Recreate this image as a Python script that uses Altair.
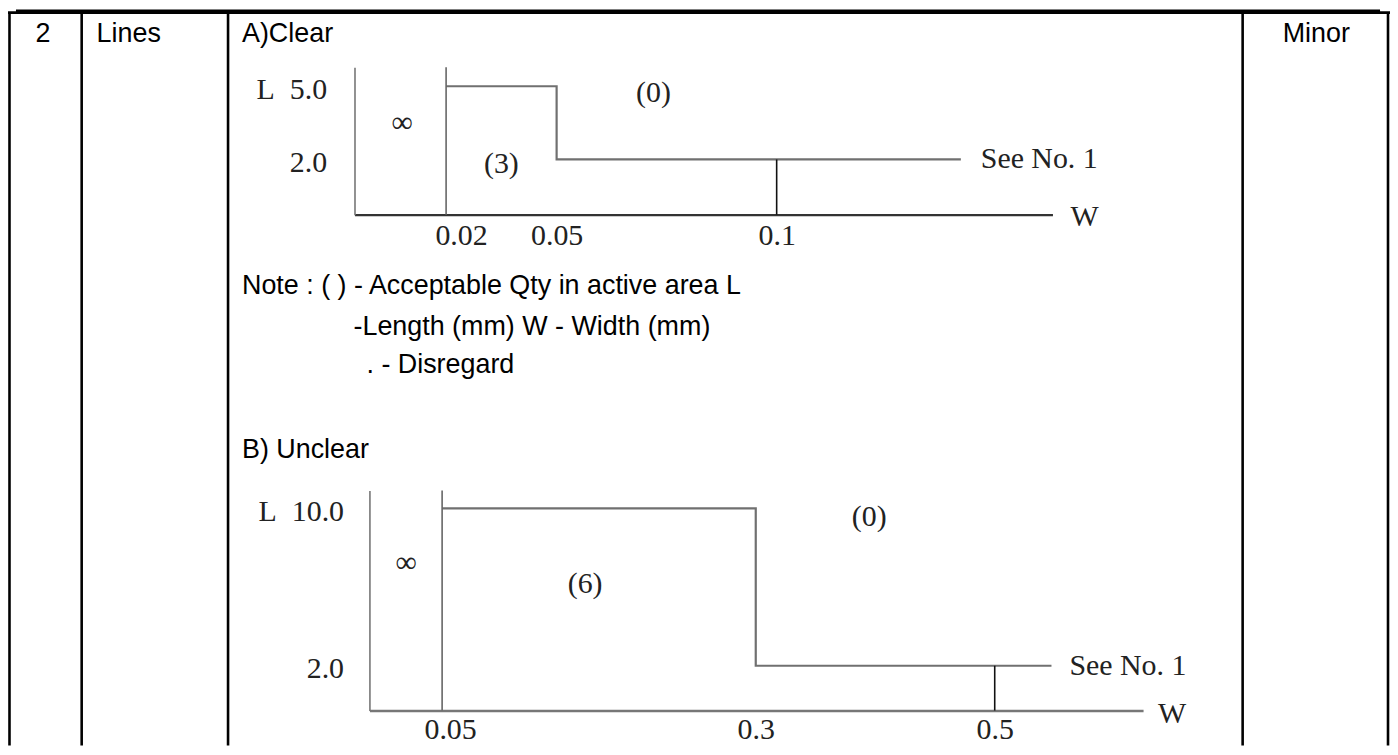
import altair as alt
import pandas as pd

# ---------------- data ----------------
# Chart A) Clear  (W = width mm, L = length mm)
A_W_STOPS = [0, 0.02, 0.05, 0.1, 0.15, 0.2]      # scale breakpoints (last two: line end / axis end)
A_L_STOPS = [0, 2.0, 5.0, 5.8]
A_W_TICKS = [0.02, 0.05, 0.1]
A_L_TICKS = [2.0, 5.0]
A_STEP_W = [0.02, 0.05, 0.05, 0.15]
A_STEP_L = [5.0, 5.0, 2.0, 2.0]
A_LIMIT = 0.02          # vertical limit line, full height
A_MARK_W = 0.1          # short mark at W = 0.1 down to axis
A_MARK_L = 2.0
A_NOTES = ["∞", "(3)", "(0)"]
A_NOTE_W = [0.0104, 0.035, 0.072]
A_NOTE_L = [3.5, 1.84, 4.71]

# Chart B) Unclear
B_W_STOPS = [0, 0.05, 0.3, 0.5, 0.55, 0.6]
B_L_STOPS = [0, 2.0, 10.0, 11.0]
B_W_TICKS = [0.05, 0.3, 0.5]
B_L_TICKS = [2.0, 10.0]
B_STEP_W = [0.05, 0.3, 0.3, 0.55]
B_STEP_L = [10.0, 10.0, 2.0, 2.0]
B_LIMIT = 0.05
B_MARK_W = 0.5
B_MARK_L = 2.0
B_NOTES = ["∞", "(6)", "(0)"]
B_NOTE_W = [0.0253, 0.164, 0.395]
B_NOTE_L = [7.2, 6.15, 9.54]

SEE_TEXT = "See No. 1"
AXIS_TEXT = "W"

# table texts
LEFT_TEXTS = ["Lines", "A)Clear",
              "Note : ( ) - Acceptable Qty in active area L",
              "-Length (mm) W - Width (mm)",
              ". - Disregard",
              "B) Unclear"]
CENTER_TEXTS = ["2", "Minor"]

# ---------------- layout (pixels) ----------------
W, H = 1388, 739
SERIF = "Liberation Serif"
SANS = "Liberation Sans"

left_pos_x = [89, 235, 235, 347, 360, 235]
left_pos_y = [25, 25, 278, 319, 357, 442]
center_pos_x = [35, 1314]
center_pos_y = [25, 25]

frame_lines = pd.DataFrame({
    "x": [1.5, 74, 221, 1240, 1386, 0],
    "x2": [1.5, 74, 221, 1240, 1386, 1388],
    "y": [3, 3, 3, 3, 3, 3],
    "y2": [H, H, H, H, H, 3],
})
top_bar = pd.DataFrame({"x": [8], "x2": [1378], "y": [0], "y2": [3]})

frame = alt.layer(
    alt.Chart(top_bar).mark_rect(color="black").encode(
        x=alt.X("x:Q", scale=None, axis=None), x2="x2:Q",
        y=alt.Y("y:Q", scale=None, axis=None), y2="y2:Q"),
    alt.Chart(frame_lines).mark_rule(color="black", strokeWidth=2.6).encode(
        x=alt.X("x:Q", scale=None, axis=None), x2="x2:Q",
        y=alt.Y("y:Q", scale=None, axis=None), y2="y2:Q"),
    alt.Chart(pd.DataFrame({"t": LEFT_TEXTS, "x": left_pos_x, "y": left_pos_y})).mark_text(
        align="left", baseline="middle", font=SANS, fontSize=27, color="black").encode(
        x=alt.X("x:Q", scale=None, axis=None), y=alt.Y("y:Q", scale=None, axis=None), text="t:N"),
    alt.Chart(pd.DataFrame({"t": CENTER_TEXTS, "x": center_pos_x, "y": center_pos_y})).mark_text(
        align="center", baseline="middle", font=SANS, fontSize=27, color="black").encode(
        x=alt.X("x:Q", scale=None, axis=None), y=alt.Y("y:Q", scale=None, axis=None), text="t:N"),
)


def diagram(w_stops, l_stops, x_range, y_range, w_ticks, l_ticks, top_tick,
            step_w, step_l, limit, mark_w, mark_l, notes, note_w, note_l,
            x_axis_color, x_axis_width, y_label_pad, x_label_pad, first_offset,
            see_dx, w_dx, w_dy):
    xs = alt.Scale(domain=w_stops, range=x_range, nice=False, zero=False)
    ys = alt.Scale(domain=l_stops, range=y_range, nice=False, zero=False)
    xa = alt.Axis(orient="bottom", offset=y_range[0] - H, values=w_ticks, title=None,
                  grid=False, ticks=False, domainColor=x_axis_color, domainWidth=x_axis_width,
                  labelFont=SERIF, labelFontSize=30, labelColor="#222",
                  labelPadding=x_label_pad, labelBaseline="middle", labelFlush=False,
                  labelOverlap=False, format="~g",
                  labelOffset={"condition": {"test": f"datum.value == {w_ticks[0]}", "value": first_offset},
                               "value": 0})
    ya = alt.Axis(orient="left", offset=-x_range[0], values=l_ticks, title=None,
                  grid=False, ticks=False, domainColor="#777", domainWidth=1.6,
                  labelFont=SERIF, labelFontSize=30, labelColor="#222",
                  labelPadding=y_label_pad, labelBaseline="middle", labelFlush=False,
                  labelOverlap=False, labelOffset=3,
                  labelExpr=f"(datum.value == {top_tick} ? 'L\u00a0\u00a0' : '') + format(datum.value, '.1f')")
    X = lambda f: alt.X(f, scale=xs, axis=xa)
    Y = lambda f: alt.Y(f, scale=ys, axis=ya)

    step = alt.Chart(pd.DataFrame({"w": step_w, "l": step_l, "i": list(range(len(step_w)))})).mark_line(
        color="#707070", strokeWidth=2.2).encode(x=X("w:Q"), y=Y("l:Q"), order="i:O")
    lim = alt.Chart(pd.DataFrame({"w": [limit], "l": [l_stops[0]], "l2": [l_stops[-1]]})).mark_rule(
        color="#666", strokeWidth=1.6).encode(x=X("w:Q"), y=Y("l:Q"), y2="l2:Q")
    mk = alt.Chart(pd.DataFrame({"w": [mark_w], "l": [l_stops[0]], "l2": [mark_l]})).mark_rule(
        color="#111", strokeWidth=1.6).encode(x=X("w:Q"), y=Y("l:Q"), y2="l2:Q")
    nt = alt.Chart(pd.DataFrame({"w": note_w, "l": note_l, "t": notes})).mark_text(
        font=SERIF, fontSize=30, color="#222", align="center", baseline="middle").encode(
        x=X("w:Q"), y=Y("l:Q"), text="t:N")
    see = alt.Chart(pd.DataFrame({"w": [step_w[-1]], "l": [step_l[-1]], "t": [SEE_TEXT]})).mark_text(
        font=SERIF, fontSize=30, color="#222", align="left", baseline="middle", dx=see_dx).encode(
        x=X("w:Q"), y=Y("l:Q"), text="t:N")
    wl = alt.Chart(pd.DataFrame({"w": [w_stops[-1]], "l": [l_stops[0]], "t": [AXIS_TEXT]})).mark_text(
        font=SERIF, fontSize=30, color="#222", align="left", baseline="middle", dx=w_dx, dy=w_dy).encode(
        x=X("w:Q"), y=Y("l:Q"), text="t:N")
    return alt.layer(step, lim, mk, nt, see, wl)


chart_a = diagram(A_W_STOPS, A_L_STOPS, [348, 440, 551, 772, 957, 1049], [206, 150.5, 77, 58],
                  A_W_TICKS, A_L_TICKS, 5, A_STEP_W, A_STEP_L, A_LIMIT, A_MARK_W, A_MARK_L,
                  A_NOTES, A_NOTE_W, A_NOTE_L, "#333", 2.2, 28, 21, 15, 20, 18, 2)
chart_b = diagram(B_W_STOPS, B_L_STOPS, [363, 436, 751, 991, 1048, 1140], [704, 659, 501, 483],
                  B_W_TICKS, B_L_TICKS, 10, B_STEP_W, B_STEP_L, B_LIMIT, B_MARK_W, B_MARK_L,
                  B_NOTES, B_NOTE_W, B_NOTE_L, "#777", 2.6, 26, 19, 8, 18, 15, 4)

chart = alt.layer(frame, chart_a, chart_b).resolve_scale(
    x="independent", y="independent"
).properties(
    width=W, height=H, autosize=alt.AutoSizeParams(type="none"), padding=0
).configure_view(stroke=None)

chart.save("out.html", embed_options={"renderer": "svg", "actions": False})
